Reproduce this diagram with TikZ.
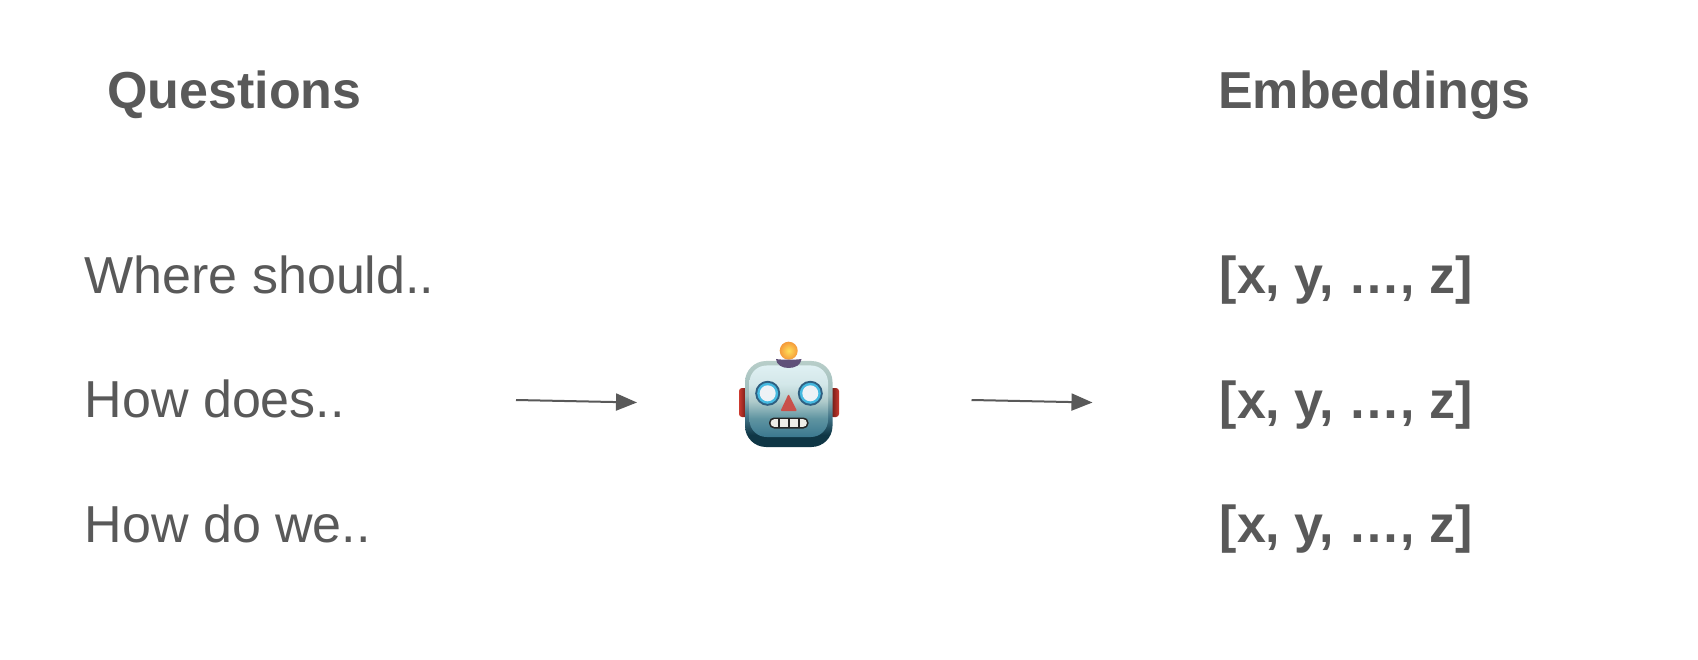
\documentclass[tikz,border=0pt]{standalone}
\usepackage{fontspec}
\setmainfont{Liberation Sans}
\usetikzlibrary{arrows.meta}
\definecolor{txt}{HTML}{595959}
\definecolor{earD}{HTML}{5A1410}
\definecolor{earL}{HTML}{CC3A2F}
\definecolor{rimT}{HTML}{B8CEC9}
\definecolor{rimM}{HTML}{9DBCBC}
\definecolor{rimL}{HTML}{3F7286}
\definecolor{rimB}{HTML}{0F3645}
\definecolor{faceT}{HTML}{DFF0F3}
\definecolor{faceA}{HTML}{D3E7E9}
\definecolor{faceM}{HTML}{AFCBCB}
\definecolor{faceN}{HTML}{5F94A1}
\definecolor{faceB}{HTML}{3B788F}
\definecolor{ballI}{HTML}{FFE05A}
\definecolor{ballO}{HTML}{F59A3A}
\definecolor{basePurple}{HTML}{5F5079}
\definecolor{eyeRim}{HTML}{2F5F80}
\definecolor{eyeCyan}{HTML}{45B9E0}
\definecolor{eyeWhite}{HTML}{EEF2F6}
\definecolor{noseRed}{HTML}{C9504A}
\definecolor{teeth}{HTML}{EDEDE8}
\pgfdeclareverticalshading{facegrad}{100bp}{color(0bp)=(faceB); color(25bp)=(faceB); color(38bp)=(faceN); color(50bp)=(faceM); color(62bp)=(faceA); color(75bp)=(faceT); color(100bp)=(faceT)}
\pgfdeclareverticalshading{rimgrad}{100bp}{color(0bp)=(rimB); color(32bp)=(rimB); color(42bp)=(rimL); color(55bp)=(rimM); color(75bp)=(rimT); color(100bp)=(rimT)}
\tikzset{
  plainlabel/.style={anchor=base west,inner sep=0pt,text=txt,font=\fontsize{52}{60}\selectfont},
  boldlabel/.style={plainlabel,font=\fontsize{52}{60}\selectfont\bfseries},
  flow/.style={draw=txt,line width=2pt,-{Triangle[length=21pt,width=17pt]}}
}
\begin{document}
\begin{tikzpicture}[x=1pt,y=-1pt]
\useasboundingbox (0,0) rectangle (1698,660);
\fill[white] (0,0) rectangle (1698,660);
\node[boldlabel] (q) at (107,108.3) {Questions};
\node[boldlabel] (e) at (1218,108.3) {Embeddings};
\node[plainlabel] (q1) at (84.5,293.4) {Where should..};
\node[plainlabel] (q2) at (84.5,417.6) {How does..};
\node[plainlabel] (q3) at (84.5,542) {How do we..};
\node[boldlabel] (e1) at (1219.5,293.5) {[x, y, …, z]};
\node[boldlabel] (e2) at (1219.5,418) {[x, y, …, z]};
\node[boldlabel] (e3) at (1219.5,542.5) {[x, y, …, z]};
\coordinate (a1) at (516,400);
\coordinate (a2) at (637,402.5);
\coordinate (b1) at (971.5,400);
\coordinate (b2) at (1092.5,402.5);
\draw[flow] (a1) -- (a2);
\draw[flow] (b1) -- (b2);
% robot
\shade[left color=earL,right color=earD,rounded corners=3pt] (739,388) rectangle (748,417);
\shade[left color=earD,right color=earL,rounded corners=3pt] (830,388) rectangle (839,417);
\shade[shading=rimgrad,rounded corners=21pt] (745,361) rectangle (832.5,447);
\shade[shading=facegrad,rounded corners=17pt] (749.5,365.5) rectangle (828,437);
% antenna
\shade[inner color=ballI,inner color=ballI,outer color=ballO] (788.7,350.7) circle (9);
\fill[basePurple] (776,359) .. controls (782,360) and (795,360) .. (801.5,359) .. controls (801,365) and (795,368) .. (788.7,368) .. controls (782,368) and (776.5,365) .. (776,359) -- cycle;
% eyes
\foreach \ex in {767.7,810.3}{
  \fill[eyeRim] (\ex,393.3) circle (12.5);
  \fill[eyeCyan] (\ex,393.3) circle (10.5);
  \fill[eyeWhite] (\ex,393.3) circle (8);
}
% nose
\fill[noseRed,rounded corners=1pt] (788.5,394) -- (797,411) -- (780.5,411) -- cycle;
% mouth
\fill[black!85,rounded corners=5pt] (769,417.5) rectangle (808.5,428.5);
\fill[teeth,rounded corners=3.5pt] (770.7,419.2) rectangle (806.8,426.8);
\foreach \mx in {779,788.7,798.5}{\fill[black!85] (\mx-1,418) rectangle (\mx+1,428);}
\end{tikzpicture}
\end{document}
